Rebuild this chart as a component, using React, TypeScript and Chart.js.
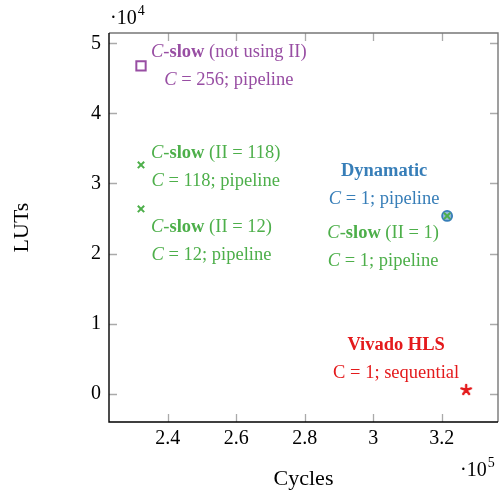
import React, { useEffect, useRef } from 'react';
import { Chart, registerables } from 'chart.js';
Chart.register(...registerables);

// ---- data ----
const xTickValues = [240000, 260000, 280000, 300000, 320000];
const xTickLabels = ['2.4', '2.6', '2.8', '3', '3.2'];
const yTickValues = [0, 10000, 20000, 30000, 40000, 50000];
const yTickLabels = ['0', '1', '2', '3', '4', '5'];

const cslowNoIICycles = [232200];
const cslowNoIILUTs = [46770];
const cslowCycles = [232200, 232200, 321550];
const cslowLUTs = [32640, 26360, 25360];
const dynamaticCycles = [321550];
const dynamaticLUTs = [25360];
const vivadoCycles = [327100];
const vivadoLUTs = [530];

const X_MIN = 222860;
const X_MAX = 336400;
const Y_MIN = -4040;
const Y_MAX = 51470;

const PURPLE = '#984ea3';
const GREEN = '#4daf4a';
const BLUE = '#377eb8';
const RED = '#e41a1c';

const FAMILY = "'Liberation Serif', 'DejaVu Serif', serif";

type Seg = { t: string; i?: boolean; b?: boolean };
type Label = {
  px: number; py: number; anchor: 'west' | 'center'; dx: number; dy: number;
  color: string; lines: Seg[][];
};

const labels: Label[] = [
  { px: cslowNoIICycles[0], py: cslowNoIILUTs[0], anchor: 'west', dx: 10, dy: -15, color: PURPLE,
    lines: [[{ t: 'C', i: true }, { t: '-' }, { t: 'slow', b: true }, { t: ' (not using II)' }], [{ t: 'C', i: true }, { t: ' = 256; pipeline' }]] },
  { px: cslowCycles[0], py: cslowLUTs[0], anchor: 'west', dx: 10, dy: -13, color: GREEN,
    lines: [[{ t: 'C', i: true }, { t: '-' }, { t: 'slow', b: true }, { t: ' (II = 118)' }], [{ t: 'C', i: true }, { t: ' = 118; pipeline' }]] },
  { px: cslowCycles[1], py: cslowLUTs[1], anchor: 'west', dx: 10, dy: 17, color: GREEN,
    lines: [[{ t: 'C', i: true }, { t: '-' }, { t: 'slow', b: true }, { t: ' (II = 12)' }], [{ t: 'C', i: true }, { t: ' = 12; pipeline' }]] },
  { px: dynamaticCycles[0], py: dynamaticLUTs[0], anchor: 'center', dx: -63, dy: -46, color: BLUE,
    lines: [[{ t: 'Dynamatic', b: true }], [{ t: 'C', i: true }, { t: ' = 1; pipeline' }]] },
  { px: cslowCycles[2], py: cslowLUTs[2], anchor: 'center', dx: -64, dy: 16, color: GREEN,
    lines: [[{ t: 'C', i: true }, { t: '-' }, { t: 'slow', b: true }, { t: ' (II = 1)' }], [{ t: 'C', i: true }, { t: ' = 1; pipeline' }]] },
  { px: vivadoCycles[0], py: vivadoLUTs[0], anchor: 'center', dx: -70, dy: -46, color: RED,
    lines: [[{ t: 'Vivado HLS', b: true }], [{ t: 'C = 1; sequential' }]] },
];

const LABEL_SIZE = 18.5;

function segFont(s: Seg) {
  return `${s.i ? 'italic ' : ''}${s.b ? 'bold ' : ''}${LABEL_SIZE}px ${FAMILY}`;
}

function makeStar(color: string) {
  const c = document.createElement('canvas');
  c.width = 14; c.height = 14;
  const g = c.getContext('2d')!;
  g.strokeStyle = color; g.lineWidth = 2.4; g.lineCap = 'round';
  const r = 5;
  g.beginPath();
  for (let k = 0; k < 5; k++) {
    const a = -Math.PI / 2 + (k * 2 * Math.PI) / 5;
    g.moveTo(7, 7);
    g.lineTo(7 + r * Math.cos(a), 7 + r * Math.sin(a));
  }
  g.stroke();
  return c;
}

const decorPlugin = {
  id: 'decor',
  afterDatasetsDraw(chart: any) {
    const ctx = chart.ctx as CanvasRenderingContext2D;
    const xs = chart.scales.x, ys = chart.scales.y;
    const a = chart.chartArea;
    ctx.save();
    // inward ticks
    ctx.strokeStyle = '#aaaaaa'; ctx.lineWidth = 1.3;
    ctx.beginPath();
    xTickValues.forEach((v) => {
      const p = Math.round(xs.getPixelForValue(v)) + 0.5;
      ctx.moveTo(p, a.bottom); ctx.lineTo(p, a.bottom - 8);
      ctx.moveTo(p, a.top); ctx.lineTo(p, a.top + 8);
    });
    yTickValues.forEach((v) => {
      const p = Math.round(ys.getPixelForValue(v)) + 0.5;
      ctx.moveTo(a.left, p); ctx.lineTo(a.left + 8, p);
      ctx.moveTo(a.right, p); ctx.lineTo(a.right - 8, p);
    });
    ctx.stroke();
    // frame
    ctx.lineWidth = 1.4;
    ctx.strokeStyle = '#777777';
    ctx.beginPath();
    ctx.moveTo(a.left, a.top); ctx.lineTo(a.right, a.top); ctx.lineTo(a.right, a.bottom);
    ctx.stroke();
    ctx.strokeStyle = '#000000';
    ctx.beginPath();
    ctx.moveTo(a.left, a.top); ctx.lineTo(a.left, a.bottom); ctx.lineTo(a.right, a.bottom);
    ctx.stroke();

    // annotations
    ctx.textBaseline = 'middle';
    ctx.textAlign = 'left';
    labels.forEach((L) => {
      const px = xs.getPixelForValue(L.px), py = ys.getPixelForValue(L.py);
      const widths = L.lines.map((line) => line.reduce((w, s) => { ctx.font = segFont(s); return w + ctx.measureText(s.t).width; }, 0));
      const maxW = Math.max(...widths);
      const cx = L.anchor === 'west' ? px + L.dx + maxW / 2 : px + L.dx;
      L.lines.forEach((line, i) => {
        let x = cx - widths[i] / 2;
        const y = py + L.dy + i * 28 + 1;
        ctx.fillStyle = L.color;
        line.forEach((s) => {
          ctx.font = segFont(s);
          ctx.fillText(s.t, x, y);
          x += ctx.measureText(s.t).width;
        });
      });
    });

    // axis titles
    ctx.fillStyle = '#000';
    ctx.font = `22px ${FAMILY}`;
    ctx.textAlign = 'center';
    ctx.fillText('Cycles', (a.left + a.right) / 2, 479);
    ctx.save();
    ctx.translate(22, (a.top + a.bottom) / 2);
    ctx.rotate(-Math.PI / 2);
    ctx.fillText('LUTs', 0, 0);
    ctx.restore();

    // exponents
    const drawExp = (x: number, y: number, e: string) => {
      ctx.textAlign = 'left';
      ctx.font = `20px ${FAMILY}`;
      ctx.fillText('·10', x, y);
      const w = ctx.measureText('·10').width;
      ctx.font = `14px ${FAMILY}`;
      ctx.fillText(e, x + w + 1, y - 8);
    };
    drawExp(a.left + 1, 19, '4');
    drawExp(a.right - 38, 471, '5');
    ctx.restore();
  },
};

export default function App() {
  const ref = useRef<HTMLCanvasElement | null>(null);
  useEffect(() => {
    document.body.style.margin = '0';
    const star = makeStar(RED);
    const pts = (xs: number[], ys: number[]) => xs.map((x, i) => ({ x, y: ys[i] }));
    const chart = new Chart(ref.current!, {
      type: 'scatter',
      data: {
        datasets: [
          { label: 'C-slow', data: pts(cslowCycles, cslowLUTs), pointStyle: 'crossRot', radius: 4.5, borderColor: GREEN, borderWidth: 2, backgroundColor: GREEN },
          { label: 'Dynamatic', data: pts(dynamaticCycles, dynamaticLUTs), pointStyle: 'circle', radius: 5, borderColor: BLUE, borderWidth: 1.8, backgroundColor: 'rgba(55,126,184,0.55)' },
          { label: 'C-slow (not using II)', data: pts(cslowNoIICycles, cslowNoIILUTs), pointStyle: 'rect', radius: 6.6, borderColor: PURPLE, borderWidth: 2, backgroundColor: 'rgba(0,0,0,0)' },
          { label: 'Vivado HLS', data: pts(vivadoCycles, vivadoLUTs), pointStyle: star as any, radius: 6, borderColor: RED, backgroundColor: RED },
        ],
      },
      options: {
        animation: false,
        responsive: false,
        events: [],
        layout: { autoPadding: false, padding: { top: 33, right: 4, left: 0, bottom: 0 } },
        plugins: { legend: { display: false }, tooltip: { enabled: false } },
        scales: {
          x: {
            type: 'linear', min: X_MIN, max: X_MAX,
            afterBuildTicks: (s: any) => { s.ticks = xTickValues.map((value) => ({ value })); },
            afterFit: (s: any) => { s.height = 71; s.paddingLeft = 0; s.paddingRight = 0; },
            grid: { display: false, drawTicks: false },
            border: { display: false },
            ticks: {
              padding: 5, color: '#000', font: { family: FAMILY, size: 20 },
              callback: (v: any) => xTickLabels[xTickValues.indexOf(Number(v))],
            },
          },
          y: {
            type: 'linear', min: Y_MIN, max: Y_MAX,
            afterBuildTicks: (s: any) => { s.ticks = yTickValues.map((value) => ({ value })); },
            afterFit: (s: any) => { s.width = 109; s.paddingTop = 0; s.paddingBottom = 0; },
            grid: { display: false, drawTicks: false },
            border: { display: false },
            ticks: {
              padding: 8, color: '#000', font: { family: FAMILY, size: 20 },
              callback: (v: any) => yTickLabels[yTickValues.indexOf(Number(v))],
            },
          },
        },
      },
      plugins: [decorPlugin],
    } as any);
    return () => chart.destroy();
  }, []);
  return <canvas ref={ref} width={502} height={493} style={{ display: 'block', width: 502, height: 493 }} />;
}
